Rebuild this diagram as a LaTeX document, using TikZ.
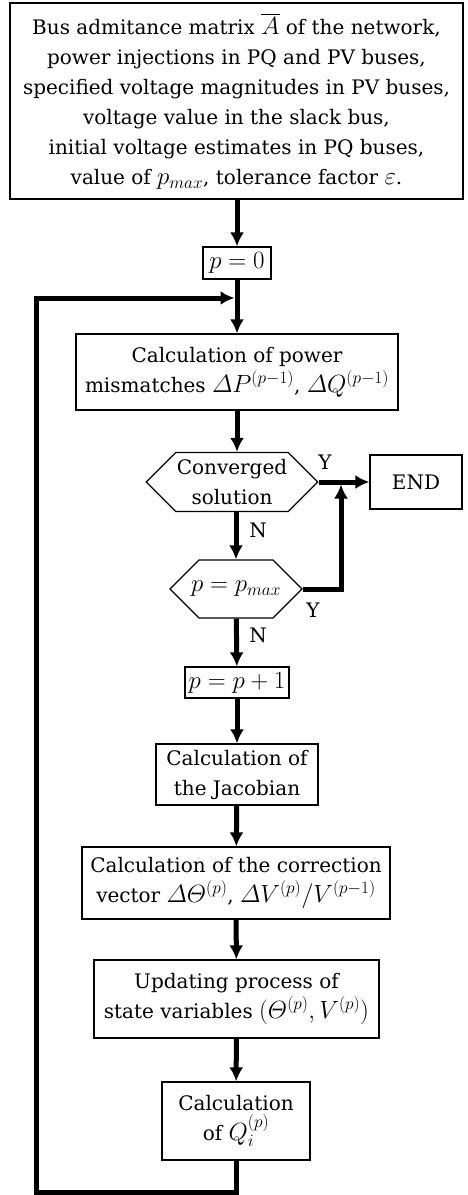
\documentclass[tikz,border=0pt]{standalone}
\usepackage{amsmath}
\usepackage[no-math]{fontspec}
\setmainfont{DejaVu Serif}
\usepackage{tikz}
\usetikzlibrary{arrows.meta,shapes.symbols}
\newcommand{\flowmath}[1]{{\fontsize{23}{30}\selectfont$#1$}}

\begin{document}
\begin{tikzpicture}[
  x=1pt,y=-1pt,
  every node/.style={font=\fontsize{20}{30}\selectfont},
  box/.style={draw,line width=1.2pt,align=center,inner sep=1pt},
  test/.style={draw,line width=1.2pt,shape=signal,signal to=west and east,
    signal pointer angle=90,align=center,inner sep=1pt},
  arr/.style={-{Latex[length=14pt,width=14pt]},line width=5pt},
  flow/.style={line width=5pt},
  lbl/.style={inner sep=0pt}
]
  \useasboundingbox (0,0) rectangle (467,1195);
  \node[box,minimum width=453pt,minimum height=196pt] (data) at (236.5,101)
    {Bus admitance matrix \flowmath{\overline{A}} of the network,\\
     power injections in PQ and PV buses,\\
     specified voltage magnitudes in PV buses,\\
     voltage value in the slack bus,\\
     initial voltage estimates in PQ buses,\\
     value of \flowmath{p_{max}}, tolerance factor \flowmath{\varepsilon}.};
  \node[box,minimum width=68pt,minimum height=32pt] (init) at (237,263)
    {\flowmath{p=0}};
  \node[box,minimum width=322pt,minimum height=76pt] (mism) at (237,372)
    {Calculation of power\\
     mismatches \flowmath{\varDelta P^{(p-1)}}, \flowmath{\varDelta Q^{(p-1)}}};
  \node[test,minimum width=167pt,minimum height=59pt] (conv) at (232,482)
    {Converged\\solution};
  \node[box,minimum width=92pt,minimum height=54pt] (stop) at (416,482) {END};
  \node[test,minimum width=132pt,minimum height=58pt] (pmax) at (236,589)
    {\makebox[60pt]{\flowmath{p=p_{max}}}};
  \node[box,minimum width=104pt,minimum height=31pt] (incr) at (237,682.5)
    {\flowmath{p=p+1}};
  \node[box,minimum width=162pt,minimum height=61pt] (jac) at (237,774.5)
    {Calculation of\\the Jacobian};
  \node[box,minimum width=308pt,minimum height=72pt] (corr) at (236,883)
    {Calculation of the correction\\
     vector \flowmath{\varDelta\varTheta^{(p)}}, \flowmath{\varDelta V^{(p)}/V^{(p-1)}}};
  \node[box,minimum width=285pt,minimum height=78pt] (upd) at (236.5,999)
    {Updating process of\\
     state variables \flowmath{(\varTheta^{(p)},V^{(p)})}};
  \node[box,minimum width=148pt,minimum height=78pt] (reac) at (236,1121)
    {Calculation\\of \flowmath{Q_i^{(p)}}};

  \node[lbl] (y1) at (325,462) {Y};
  \node[lbl] (n1) at (258,530) {N};
  \node[lbl] (y2) at (313,610) {Y};
  \node[lbl] (n2) at (258,635) {N};

  \coordinate (loop) at (237,298);
  \coordinate (jn) at (341,482);
  \coordinate (low) at (36,1192);

  \draw[arr] (data.south -| init) -- (init);
  \draw[flow] (init) -- (loop);
  \draw[arr] (loop) -- (mism);
  \draw[arr] (mism) -- (mism.south |- conv.north);
  \draw[arr] (conv.east) -- (stop.west);
  \draw[arr] (conv.south -| pmax) -- (pmax.north);
  \draw[arr,shorten >=2.5pt] (pmax.east) -| (jn);
  \draw[arr] (pmax) -- (incr);
  \draw[arr] (incr) -- (jac);
  \draw[arr] (jac) -- (corr);
  \draw[arr] (corr) -- (upd);
  \draw[arr] (upd) -- (reac);
  \draw[arr,shorten >=2.5pt] (reac.south) |- (low) |- (loop);
\end{tikzpicture}
\end{document}
